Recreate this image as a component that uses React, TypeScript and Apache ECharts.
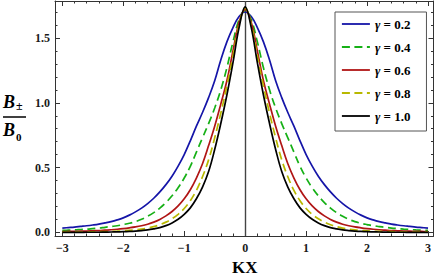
import React, { useEffect, useRef } from "react";
import * as echarts from "echarts";

// Right half of the curves (they are symmetric about KX = 0)
const X_HALF = [
  0, 0.1, 0.2, 0.3, 0.4, 0.5, 0.6, 0.7, 0.8, 0.9, 1.0, 1.1, 1.2, 1.3, 1.4, 1.5,
  1.6, 1.7, 1.8, 1.9, 2.0, 2.1, 2.2, 2.3, 2.4, 2.5, 2.6, 2.7, 2.8, 2.9, 3.0,
];
const G02 = [
  1.7, 1.665, 1.58, 1.47, 1.33, 1.17, 1.04, 0.925, 0.82, 0.707, 0.601, 0.512,
  0.434, 0.369, 0.313, 0.264, 0.223, 0.188, 0.159, 0.134, 0.113, 0.097, 0.084,
  0.074, 0.065, 0.058, 0.052, 0.047, 0.042, 0.038, 0.034,
];
const G04 = [
  1.71, 1.64, 1.47, 1.27, 1.1, 0.96, 0.84, 0.73, 0.62, 0.51, 0.42, 0.345, 0.283,
  0.231, 0.188, 0.153, 0.125, 0.102, 0.084, 0.071, 0.061, 0.052, 0.046, 0.04,
  0.034, 0.03, 0.026, 0.023, 0.02, 0.018, 0.016,
];
const G06 = [
  1.72, 1.62, 1.4, 1.17, 0.99, 0.82, 0.67, 0.53, 0.42, 0.33, 0.26, 0.205, 0.162,
  0.128, 0.101, 0.08, 0.064, 0.052, 0.043, 0.036, 0.03, 0.025, 0.021, 0.018,
  0.015, 0.013, 0.011, 0.01, 0.009, 0.008, 0.007,
];
const G08 = [
  1.73, 1.6, 1.36, 1.13, 0.92, 0.73, 0.56, 0.43, 0.325, 0.245, 0.185, 0.14,
  0.106, 0.08, 0.06, 0.045, 0.034, 0.026, 0.02, 0.016, 0.013, 0.01, 0.008,
  0.007, 0.006, 0.005, 0.004, 0.004, 0.003, 0.003, 0.003,
];
const G10 = [
  1.74, 1.58, 1.31, 1.06, 0.84, 0.64, 0.47, 0.35, 0.26, 0.19, 0.14, 0.102,
  0.074, 0.053, 0.038, 0.028, 0.02, 0.015, 0.011, 0.008, 0.006, 0.005, 0.004,
  0.003, 0.002, 0.002, 0.002, 0.001, 0.001, 0.001, 0.001,
];
const SERIES_NAMES = ["γ = 0.2", "γ = 0.4", "γ = 0.6", "γ = 0.8", "γ = 1.0"];

const X_MAJOR = [-3, -2, -1, 0, 1, 2, 3];
const X_LABELS = ["−3", "−2", "−1", "0", "1", "2", "3"];
const Y_MAJOR = [0, 0.5, 1, 1.5];
const Y_LABELS = ["0.0", "0.5", "1.0", "1.5"];

const XMIN = -3.12;
const XMAX = 3.09;
const YMIN = -0.027;
const YMAX = 1.785;

function mirror(v: number[]): number[][] {
  const out: number[][] = [];
  for (let i = X_HALF.length - 1; i >= 1; i--) out.push([-X_HALF[i], v[i]]);
  for (let i = 0; i < X_HALF.length; i++) out.push([X_HALF[i], v[i]]);
  return out;
}

function range(a: number, b: number, step: number): number[] {
  const r: number[] = [];
  const n = Math.round((b - a) / step);
  for (let i = 0; i <= n; i++) r.push(Math.round((a + i * step) * 1000) / 1000);
  return r;
}

const FONT = "'Liberation Serif', 'DejaVu Serif', serif";
const FRAME = "#333";

export default function App() {
  const ref = useRef<HTMLDivElement>(null);
  useEffect(() => {
    const chart = echarts.init(ref.current!, null, { renderer: "svg" });
    const xMinor = range(-3, 3, 0.2);
    const yMinor = range(0, 1.7, 0.1);
    const lookup = (vals: number[], labels: string[]) => (v: number) => {
      const i = vals.findIndex((t) => Math.abs(t - v) < 1e-6);
      return i >= 0 ? labels[i] : "";
    };
    const tickStyle = { color: FRAME, width: 1 };
    const labelStyle = {
      fontFamily: FONT,
      fontWeight: "bold" as const,
      fontSize: 12,
      color: "#1a1a1a",
    };
    const xAxisBase = {
      type: "value" as const,
      min: XMIN,
      max: XMAX,
      splitLine: { show: false },
    };
    const yAxisBase = {
      type: "value" as const,
      min: YMIN,
      max: YMAX,
      splitLine: { show: false },
    };
    const colors = ["#1515a8", "#16b016", "#b01515", "#b8b800", "#000000"];
    const dashes: any[] = ["solid", [8, 4.5], "solid", [8, 4.5], "solid"];
    const datasets = [G02, G04, G06, G08, G10];

    chart.setOption({
      animation: false,
      grid: { left: 55, right: 2.5, top: 1, bottom: 42, containLabel: false },
      xAxis: [
        {
          ...xAxisBase,
          position: "bottom",
          axisLine: { show: true, onZero: false, lineStyle: { color: FRAME, width: 1 } },
          axisTick: { show: true, inside: true, length: 5, customValues: X_MAJOR, lineStyle: tickStyle },
          axisLabel: {
            show: true,
            customValues: X_MAJOR,
            formatter: lookup(X_MAJOR, X_LABELS),
            margin: 6,
            ...labelStyle,
          },
        },
        {
          ...xAxisBase,
          position: "bottom",
          axisLine: { show: false, onZero: false },
          axisTick: { show: true, inside: true, length: 2.5, customValues: xMinor, lineStyle: tickStyle },
          axisLabel: { show: false },
        },
        {
          ...xAxisBase,
          position: "top",
          axisLine: { show: true, onZero: false, lineStyle: { color: FRAME, width: 1 } },
          axisTick: { show: true, inside: true, length: 5, customValues: X_MAJOR, lineStyle: tickStyle },
          axisLabel: { show: false },
        },
        {
          ...xAxisBase,
          position: "top",
          axisLine: { show: false, onZero: false },
          axisTick: { show: true, inside: true, length: 2.5, customValues: xMinor, lineStyle: tickStyle },
          axisLabel: { show: false },
        },
      ],
      yAxis: [
        {
          ...yAxisBase,
          position: "left",
          axisLine: { show: true, onZero: false, lineStyle: { color: FRAME, width: 1 } },
          axisTick: { show: true, inside: true, length: 5, customValues: Y_MAJOR, lineStyle: tickStyle },
          axisLabel: {
            show: true,
            customValues: Y_MAJOR,
            formatter: lookup(Y_MAJOR, Y_LABELS),
            margin: 5,
            ...labelStyle,
          },
        },
        {
          ...yAxisBase,
          position: "left",
          axisLine: { show: false, onZero: false },
          axisTick: { show: true, inside: true, length: 2.5, customValues: yMinor, lineStyle: tickStyle },
          axisLabel: { show: false },
        },
        {
          ...yAxisBase,
          position: "right",
          axisLine: { show: true, onZero: false, lineStyle: { color: FRAME, width: 1 } },
          axisTick: { show: true, inside: true, length: 5, customValues: Y_MAJOR, lineStyle: tickStyle },
          axisLabel: { show: false },
        },
        {
          ...yAxisBase,
          position: "right",
          axisLine: { show: false, onZero: false },
          axisTick: { show: true, inside: true, length: 2.5, customValues: yMinor, lineStyle: tickStyle },
          axisLabel: { show: false },
        },
      ],
      legend: {
        orient: "vertical",
        left: 335,
        top: 12,
        itemWidth: 28,
        itemHeight: 14,
        itemGap: 9,
        padding: [5, 16, 8, 6],
        backgroundColor: "#fff",
        borderColor: "#555",
        borderWidth: 1,
        borderRadius: 0,
        data: SERIES_NAMES,
        itemStyle: { color: "transparent", borderColor: "transparent", borderWidth: 0, opacity: 0 },
        lineStyle: { width: 1.8 },
        formatter: (name: string) => name.replace("γ", "{i|γ}"),
        textStyle: {
          fontFamily: FONT,
          fontWeight: "bold",
          fontSize: 13,
          lineHeight: 14,
          color: "#000",
          rich: {
            i: {
              fontFamily: FONT,
              fontWeight: "bold",
              fontStyle: "italic",
              fontSize: 13,
              lineHeight: 14,
              color: "#000",
            },
          },
        },
      },
      series: datasets.map((d, i) => ({
        type: "line",
        name: SERIES_NAMES[i],
        data: mirror(d),
        xAxisIndex: 0,
        yAxisIndex: 0,
        symbol: "none",
        showSymbol: false,
        smooth: 0.4,
        color: colors[i],
        itemStyle: { color: colors[i] },
        lineStyle: { color: colors[i], width: 1.7, type: dashes[i] },
        z: 3,
        markLine:
          i === 0
            ? {
                silent: true,
                symbol: ["none", "none"],
                label: { show: false },
                lineStyle: { color: "#444", width: 1.4, type: "solid" },
                data: [{ xAxis: 0 }],
                z: 1,
              }
            : undefined,
      })),
      graphic: [
        {
          type: "text",
          left: 232,
          top: 259,
          style: { text: "KX", fontFamily: FONT, fontWeight: "bold", fontSize: 17, fill: "#000" },
        },
        {
          type: "text",
          x: 3,
          y: 93,
          style: { text: "B", fontFamily: FONT, fontWeight: "bold", fontStyle: "italic", fontSize: 18, fill: "#000" },
        },
        {
          type: "text",
          x: 16,
          y: 100,
          style: { text: "±", fontFamily: FONT, fontWeight: "bold", fontSize: 12, fill: "#000" },
        },
        {
          type: "line",
          shape: { x1: 3, y1: 117, x2: 26, y2: 117 },
          style: { stroke: "#000", lineWidth: 1.5 },
        },
        {
          type: "text",
          x: 3,
          y: 121,
          style: { text: "B", fontFamily: FONT, fontWeight: "bold", fontStyle: "italic", fontSize: 18, fill: "#000" },
        },
        {
          type: "text",
          x: 16,
          y: 131,
          style: { text: "0", fontFamily: FONT, fontWeight: "bold", fontSize: 11, fill: "#000" },
        },
      ],
    });
    return () => chart.dispose();
  }, []);
  return (
    <div
      ref={ref}
      style={{ position: "fixed", left: 0, top: 0, width: 436, height: 278, background: "#fff" }}
    />
  );
}
